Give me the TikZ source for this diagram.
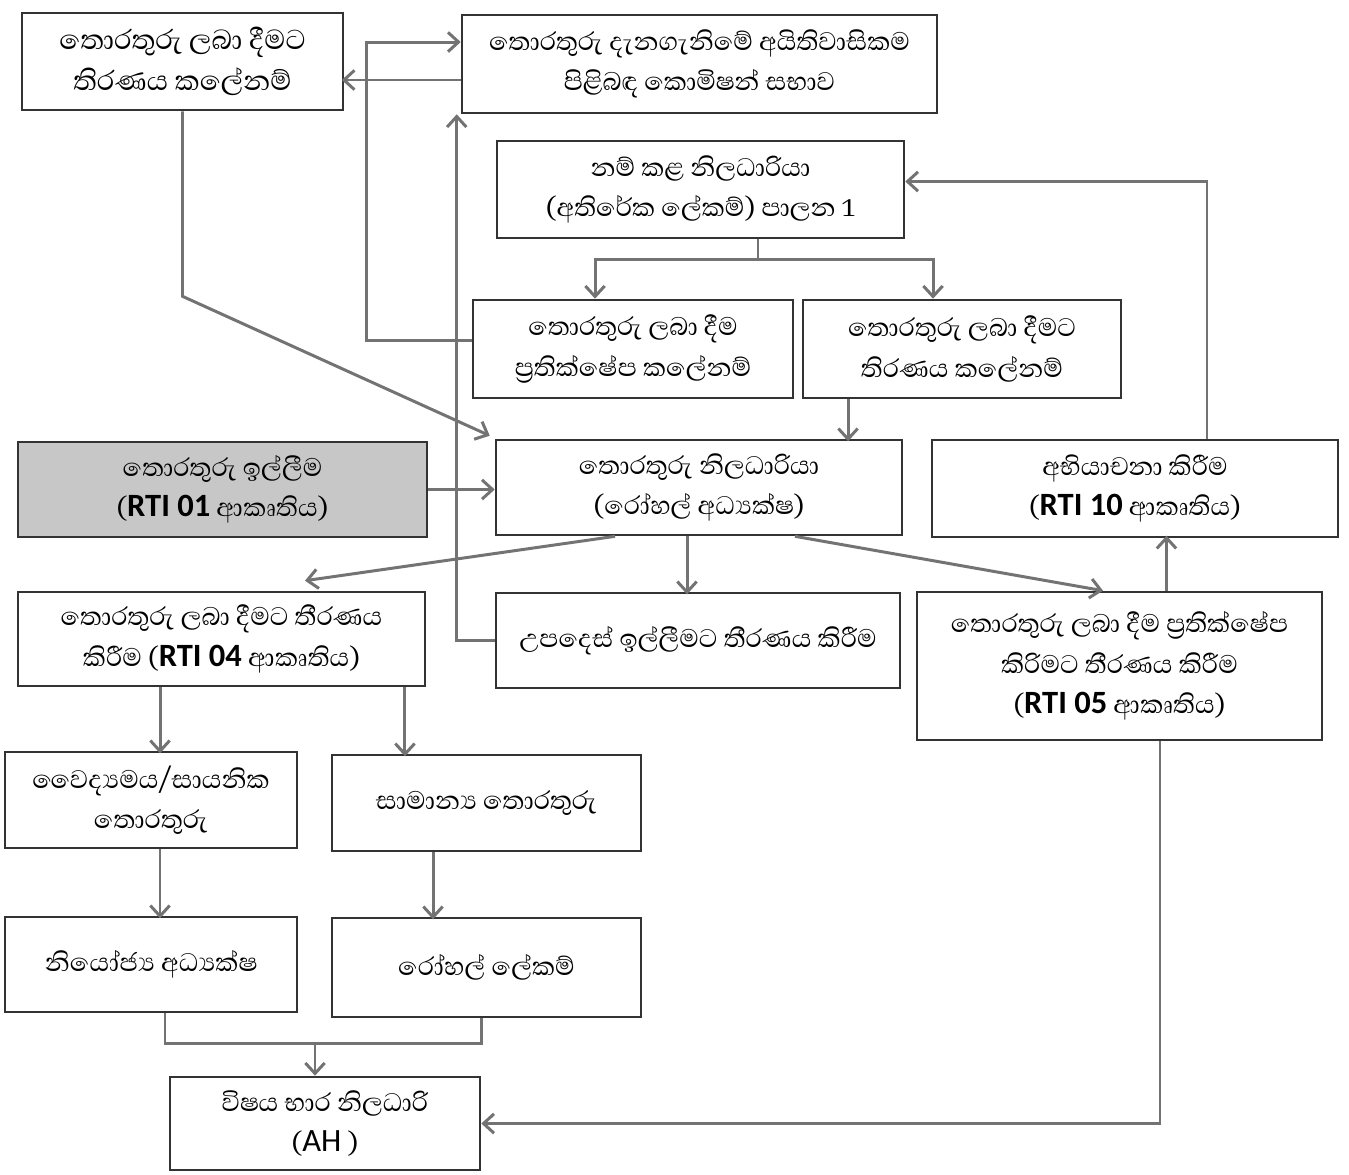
\documentclass[tikz,border=0pt]{standalone}
\usepackage{fontspec}
\setmainfont[Script=Sinhala]{Abhaya Libre}
\newfontfamily\rtifont{Carlito}
\usetikzlibrary{arrows.meta}
\newcommand{\rti}[1]{{\rtifont\bfseries #1}}

\begin{document}
\begin{tikzpicture}[x=0.02cm,y=-0.02cm,
    box/.style={draw=black!80,line width=1.5pt,align=center,inner sep=2pt,font=\fontsize{18.5}{23}\selectfont},
    flow/.style={draw=black!55,line width=1.7pt,-{Straight Barb[length=6pt,width=11pt]}},
    link/.style={draw=black!55,line width=1.7pt}]
  \useasboundingbox (0,0) rectangle (1349,1174);

  % top row
  \node[box,font=\fontsize{20}{23}\selectfont,minimum width=6.42cm,minimum height=1.94cm] (decideTop) at (182.5,61.5) {තොරතුරු ලබා දීමට\\තිරණය කලේනම්};
  \node[box,minimum width=9.5cm,minimum height=1.96cm] (commission) at (699.5,64) {තොරතුරු දැනගැනිමේ අයිතිවාසිකම\\පිළිබඳ කොමිෂන් සභාව};
  \node[box,minimum width=8.14cm,minimum height=1.94cm] (nominated) at (700.5,189.5) {නම් කළ නිලධාරියා\\(අතිරේක ලේකම්) පාලන 1};
  \node[box,minimum width=6.4cm,minimum height=1.96cm] (refused) at (633,349) {තොරතුරු ලබා දීම\\ප්^^^^200dරතික්ෂේප කලේනම්};
  \node[box,minimum width=6.36cm,minimum height=1.96cm] (granted) at (962,349) {තොරතුරු ලබා දීමට\\තිරණය කලේනම්};

  % middle
  \node[box,fill=black!22,minimum width=8.18cm,minimum height=1.9cm] (request) at (222.5,489.5) {තොරතුරු ඉල්ලීම\\(\rti{RTI 01} ආකෘතිය)};
  \node[box,minimum width=8.12cm,minimum height=1.9cm] (infoOfficer) at (699,487.5) {තොරතුරු නිලධාරියා\\(රෝහල් අධ්^^^^200dයක්ෂ)};
  \node[box,minimum width=8.12cm,minimum height=1.94cm] (appeal) at (1135,488.5) {අභියාචනා කිරීම\\(\rti{RTI 10} ආකෘතිය)};
  \node[box,minimum width=8.14cm,minimum height=1.88cm] (grantForm) at (221.5,639) {තොරතුරු ලබා දීමට තීරණය\\කිරීම (\rti{RTI 04} ආකෘතිය)};
  \node[box,minimum width=8.08cm,minimum height=1.9cm] (advice) at (698,640.5) {උපදෙස් ඉල්ලීමට තීරණය කිරීම};
  \node[box,minimum width=8.1cm,minimum height=2.96cm] (refuseForm) at (1119.5,666) {තොරතුරු ලබා දීම ප්^^^^200dරතික්ෂේප\\කිරිමට තීරණය කිරීම\\(\rti{RTI 05} ආකෘතිය)};

  % bottom
  \node[box,minimum width=5.84cm,minimum height=1.92cm] (medical) at (151,800) {වෛද්^^^^200dයමය/සායනික\\තොරතුරු};
  \node[box,minimum width=6.18cm,minimum height=1.92cm] (general) at (486.5,803) {සාමාන්^^^^200dය තොරතුරු};
  \node[box,minimum width=5.84cm,minimum height=1.9cm] (deputy) at (151,964.5) {නියෝජ්^^^^200dය අධ්^^^^200dයක්ෂ};
  \node[box,minimum width=6.18cm,minimum height=1.98cm] (secretary) at (486.5,967.5) {රෝහල් ලේකම්};
  \node[box,minimum width=6.2cm,minimum height=1.86cm] (subject) at (325,1123.5) {විෂය භාර නිලධාරි\\({\rtifont AH} )};

  % connectors
  \draw[flow] ([yshift=0.18cm]refused.west) -- ++(-105,0) |- ([yshift=0.44cm]commission.west);
  \draw[flow] ([yshift=-0.32cm]commission.west) -- ++(-119,0);
  \draw[flow] (advice.west) -| ([xshift=-0.08cm]commission.south west);
  \draw[flow] (decideTop.south) -- ++(0,185) -- ([xshift=-0.1cm,yshift=0.06cm]infoOfficer.north west);
  \draw[link] ([xshift=1.15cm]nominated.south) -- ++(0,20) coordinate (fork);
  \draw[flow] (fork) -| ([xshift=-0.76cm]refused.north);
  \draw[flow] (fork) -| ([xshift=-0.58cm]granted.north);
  \draw[flow] ([xshift=-2.28cm]granted.south) -- ++(0,42);
  \draw[flow] (request.east) -- (request.east -| infoOfficer.west);
  \draw[flow] ([xshift=1.44cm]appeal.north) |- ([yshift=0.16cm]nominated.east);
  \draw[flow] ([xshift=-1.68cm]infoOfficer.south) -- ([xshift=1.67cm,yshift=0.2cm]grantForm.north);
  \draw[flow] ([xshift=-0.24cm]infoOfficer.south) -- ++(0,58);
  \draw[flow] ([xshift=1.92cm]infoOfficer.south) -- ([xshift=-0.33cm]refuseForm.north);
  \draw[flow] ([xshift=0.94cm]refuseForm.north) -- ++(0,-55);
  \draw[flow] ([xshift=-1.23cm]grantForm.south) -- ++(0,66);
  \draw[flow] ([xshift=3.67cm]grantForm.south) -- ++(0,69);
  \draw[flow] ([xshift=0.18cm]medical.south) -- ++(0,69);
  \draw[flow] ([xshift=-1.07cm]general.south) -- ++(0,67);
  \draw[link] ([xshift=0.28cm]deputy.south) -- ++(0,30) coordinate (merge) -| ([xshift=-0.11cm]secretary.south);
  \coordinate (drop) at ([xshift=-0.2cm]subject.north);
  \draw[flow] (merge -| drop) -- (drop);
  \draw[flow] ([xshift=0.81cm]refuseForm.south) |- (subject.east);
\end{tikzpicture}
\end{document}
